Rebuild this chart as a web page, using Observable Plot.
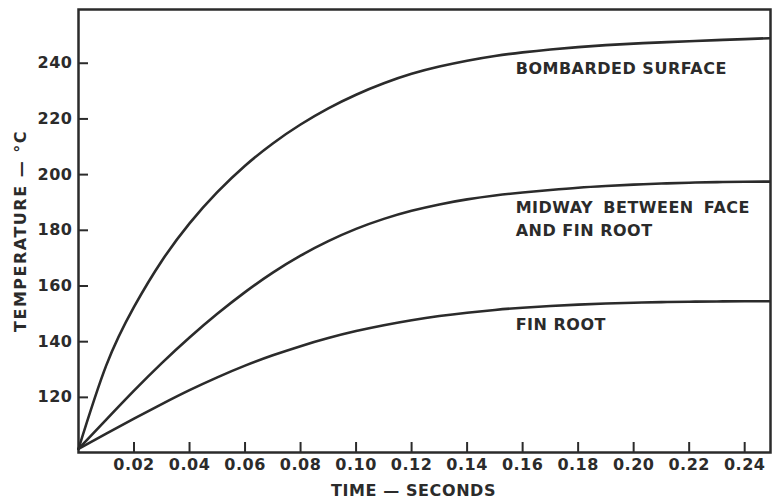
<!DOCTYPE html>
<html>
<head>
<meta charset="utf-8">
<script src="https://cdn.jsdelivr.net/npm/d3@7"></script>
<script src="https://cdn.jsdelivr.net/npm/@observablehq/plot@0.6"></script>
<style>
  html, body { margin: 0; padding: 0; background: #fff; }
  #chart { width: 776px; height: 501px; }
</style>
</head>
<body>
<div id="chart"></div>
<script>
// Time in seconds
const time = [0, 0.01, 0.02, 0.03, 0.04, 0.05, 0.06, 0.07, 0.08, 0.09, 0.10, 0.11, 0.12, 0.13, 0.14, 0.15, 0.16, 0.17, 0.18, 0.19, 0.20, 0.21, 0.22, 0.23, 0.24, 0.249];
// Temperature (°C) series
const bombarded = [101.5, 131.5, 152.5, 169, 182.5, 193.7, 203.2, 211.2, 218, 223.8, 228.7, 232.8, 236.2, 238.8, 240.9, 242.6, 243.9, 244.95, 245.8, 246.5, 247.05, 247.5, 247.9, 248.3, 248.65, 249.0];
const midway    = [101.5, 112, 122.4, 132.3, 141.5, 150, 157.8, 164.8, 170.9, 176.1, 180.5, 184.1, 187.0, 189.3, 191.1, 192.5, 193.6, 194.5, 195.3, 195.9, 196.4, 196.8, 197.1, 197.3, 197.45, 197.5];
const finRoot   = [101.5, 107, 112.4, 117.6, 122.6, 127.2, 131.4, 135.1, 138.4, 141.3, 143.8, 145.9, 147.7, 149.2, 150.4, 151.4, 152.2, 152.8, 153.3, 153.7, 154, 154.2, 154.35, 154.45, 154.5, 154.5];
const seriesNames = ["BOMBARDED SURFACE", "MIDWAY BETWEEN FACE\nAND FIN ROOT", "FIN ROOT"];

// Tick values
const xTicks = [0.02, 0.04, 0.06, 0.08, 0.10, 0.12, 0.14, 0.16, 0.18, 0.20, 0.22, 0.24];
const yTicks = [120, 140, 160, 180, 200, 220, 240];

// Curve labels (anchored in data coordinates)
const labelTime = [0.1575, 0.1575, 0.1575];
const labelTemp = [238.8, 184.6, 146.9];

const rows = [];
[bombarded, midway, finRoot].forEach((vals, i) => {
  vals.forEach((v, j) => rows.push({series: seriesNames[i], t: time[j], temp: v}));
});
const labels = seriesNames.map((s, i) => ({text: s, t: labelTime[i], temp: labelTemp[i]}));

const ink = "#2b2b2b";
const fmt = d3.format(".2f");

const chart = Plot.plot({
  width: 776,
  height: 501,
  marginLeft: 78,
  marginRight: 6,
  marginTop: 9,
  marginBottom: 49,
  style: {fontFamily: "DejaVu Sans", fontSize: "16px", fontWeight: "bold", color: ink, background: "#fff", letterSpacing: "0.5px"},
  x: {domain: [0, 0.2493], axis: null},
  y: {domain: [100.2, 259.3], axis: null},
  marks: [
    Plot.axisX(xTicks, {tickSize: 10, dy: -10, fill: "none", stroke: ink, strokeWidth: 2, label: null}),
    Plot.axisX(xTicks, {tickSize: 0, tickPadding: 6, stroke: "none", tickFormat: fmt, fontSize: 16, label: null}),
    Plot.axisY(yTicks, {tickSize: 10, dx: 10, fill: "none", stroke: ink, strokeWidth: 2, label: null}),
    Plot.axisY(yTicks, {tickSize: 0, tickPadding: 6, stroke: "none", fontSize: 16, label: null}),
    Plot.frame({stroke: ink, strokeWidth: 2.5}),
    Plot.line(rows, {x: "t", y: "temp", z: "series", stroke: ink, strokeWidth: 2.6, curve: "natural"}),
    Plot.text(labels, {x: "t", y: "temp", text: "text", textAnchor: "start", lineAnchor: "middle", lineHeight: 1.4, fontSize: 16, fill: ink}),
    Plot.text(["TIME — SECONDS"], {frameAnchor: "bottom", textAnchor: "middle", lineAnchor: "middle", dy: 38, dx: -11, fontSize: 16, fill: ink}),
    Plot.text(["TEMPERATURE — °C"], {frameAnchor: "left", textAnchor: "middle", lineAnchor: "middle", dx: -58, rotate: -90, fontSize: 16, fill: ink})
  ]
});
document.getElementById("chart").appendChild(chart);
// spacing tweaks to match the original hand lettering
chart.querySelectorAll("text, tspan").forEach(t => {
  if (t.textContent === "TEMPERATURE — °C") t.setAttribute("letter-spacing", "1.5");
  if (t.textContent === "TIME — SECONDS") t.setAttribute("letter-spacing", "0.6");
  if (t.textContent === "MIDWAY BETWEEN FACE") t.setAttribute("word-spacing", "4");
});
</script>
</body>
</html>
